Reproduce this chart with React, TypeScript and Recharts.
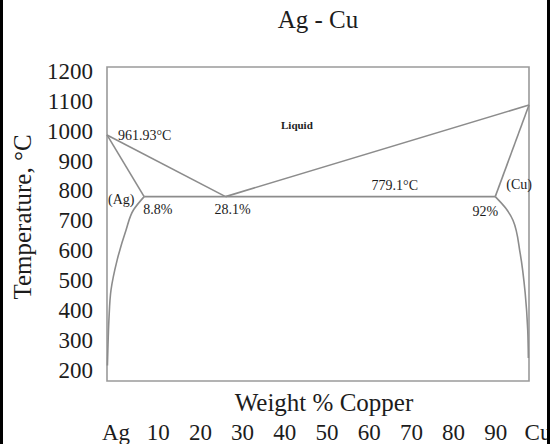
import {
  ComposedChart,
  Label,
  Line,
  ReferenceArea,
  ReferenceDot,
  XAxis,
  YAxis
} from "recharts";

// wt% Cu on x, temperature (°C) on y
const xTicks = [0, 10, 20, 30, 40, 50, 60, 70, 80, 90, 100];
const xTickNames: Record<number, string> = { 0: "Ag", 100: "Cu" };
const yTicks = [200, 300, 400, 500, 600, 700, 800, 900, 1000, 1100, 1200];

const AG_MELT = 985;
const CU_MELT = 1085;
const EUTECTIC_T = 779;
const EUTECTIC_X = 28.1;
const AG_SOLUBILITY = 8.8;
const CU_SOLUBILITY = 92;

const liquidusAg = [
  { x: 0, t: AG_MELT },
  { x: EUTECTIC_X, t: EUTECTIC_T }
];
const liquidusCu = [
  { x: EUTECTIC_X, t: EUTECTIC_T },
  { x: 100, t: CU_MELT }
];
const solidusAg = [
  { x: 0, t: AG_MELT },
  { x: AG_SOLUBILITY, t: EUTECTIC_T }
];
const solidusCu = [
  { x: CU_SOLUBILITY, t: EUTECTIC_T },
  { x: 100, t: CU_MELT }
];
const eutecticLine = [
  { x: AG_SOLUBILITY, t: EUTECTIC_T },
  { x: CU_SOLUBILITY, t: EUTECTIC_T }
];
const solvusAg = [
  { x: AG_SOLUBILITY, t: EUTECTIC_T },
  { x: 6.3, t: 735 },
  { x: 4.5, t: 667 },
  { x: 2.4, t: 567 },
  { x: 0.95, t: 467 },
  { x: 0.45, t: 366 },
  { x: 0.2, t: 266 },
  { x: 0.1, t: 215 }
];
const solvusCu = [
  { x: CU_SOLUBILITY, t: EUTECTIC_T },
  { x: 94.5, t: 740 },
  { x: 96.2, t: 700 },
  { x: 97.9, t: 590 },
  { x: 99.1, t: 456 },
  { x: 99.7, t: 333 },
  { x: 99.85, t: 240 }
];

const LINE = "#8c8c8c";
const INK = "#1c1c1c";
const FONT = "'Liberation Serif', 'Times New Roman', serif";

// text placed next to a data anchor
function note(text: string, dx: number, dy: number, anchor: string, size = 14, weight = 400) {
  return (props: any) => {
    const vb = props.viewBox || {};
    return (
      <text
        x={vb.x + dx}
        y={vb.y + dy}
        textAnchor={anchor}
        dominantBaseline="central"
        fontSize={size}
        fontWeight={weight}
        fill={INK}
        fontFamily={FONT}
      >
        {text}
      </text>
    );
  };
}

function YTitle(props: any) {
  const vb = props.viewBox || {};
  const cy = vb.y + vb.height / 2 - 7;
  return (
    <text
      transform={`translate(${vb.x + 22},${cy}) rotate(-90)`}
      textAnchor="middle"
      dominantBaseline="central"
      fontSize={25}
      fill={INK}
      fontFamily={FONT}
    >
      Temperature, °C
    </text>
  );
}

function XTitle(props: any) {
  const vb = props.viewBox || {};
  return (
    <text
      x={vb.x + vb.width / 2 + 6}
      y={vb.y + 30}
      textAnchor="middle"
      fontSize={25}
      fill={INK}
      fontFamily={FONT}
    >
      Weight % Copper
    </text>
  );
}

const series = [liquidusAg, liquidusCu, solidusAg, solidusCu, eutecticLine];

export default function App() {
  return (
    <div
      style={{
        position: "absolute",
        left: 0,
        top: 0,
        width: 550,
        height: 444,
        background: "#fff",
        fontFamily: FONT
      }}
    >
      <div
        style={{
          position: "absolute",
          left: 218,
          top: 7,
          width: 200,
          textAlign: "center",
          fontSize: 25,
          lineHeight: "25px",
          color: INK
        }}
      >
        Ag - Cu
      </div>
      <ComposedChart
        width={550}
        height={444}
        margin={{ top: 67, right: 21, bottom: 0, left: 0 }}
        style={{ fontFamily: FONT }}
      >
        <XAxis
          dataKey="x"
          type="number"
          domain={[0, 100]}
          ticks={xTicks}
          interval={0}
          height={63}
          tickLine={false}
          axisLine={false}
          tickSize={0}
          tickMargin={43}
          tick={{ fontSize: 23, fill: INK, dx: 9 }}
          tickFormatter={(v: number) => xTickNames[v] ?? String(v)}
        >
          <Label content={XTitle} />
        </XAxis>
        <YAxis
          type="number"
          domain={[163, 1212]}
          ticks={yTicks}
          interval={0}
          width={107}
          tickLine={false}
          axisLine={false}
          tickSize={0}
          tickMargin={14}
          tick={{ fontSize: 23, fill: INK }}
        >
          <Label content={YTitle} />
        </YAxis>

        <ReferenceArea
          x1={0}
          x2={100}
          y1={163}
          y2={1212}
          fill="none"
          stroke="#9a9a9a"
          strokeWidth={1.6}
        />

        {series.map((d, i) => (
          <Line
            key={i}
            data={d}
            dataKey="t"
            type="linear"
            stroke={LINE}
            strokeWidth={1.6}
            dot={false}
            activeDot={false}
            isAnimationActive={false}
          />
        ))}
        <Line
          data={solvusAg}
          dataKey="t"
          type="monotoneY"
          stroke={LINE}
          strokeWidth={1.6}
          dot={false}
          activeDot={false}
          isAnimationActive={false}
        />
        <Line
          data={solvusCu}
          dataKey="t"
          type="monotoneY"
          stroke={LINE}
          strokeWidth={1.6}
          dot={false}
          activeDot={false}
          isAnimationActive={false}
        />

        <ReferenceDot x={0} y={AG_MELT} r={0} fill="none" stroke="none"
          label={note("961.93°C", 11, 1, "start")} />
        <ReferenceDot x={45} y={1018} r={0} fill="none" stroke="none"
          label={note("Liquid", 0, 0, "middle", 11, 700)} />
        <ReferenceDot x={0} y={EUTECTIC_T} r={0} fill="none" stroke="none"
          label={note("(Ag)", 1, 3, "start")} />
        <ReferenceDot x={AG_SOLUBILITY} y={EUTECTIC_T} r={0} fill="none" stroke="none"
          label={note("8.8%", -1, 13, "start")} />
        <ReferenceDot x={EUTECTIC_X} y={EUTECTIC_T} r={0} fill="none" stroke="none"
          label={note("28.1%", 7, 13, "middle")} />
        <ReferenceDot x={68.2} y={EUTECTIC_T} r={0} fill="none" stroke="none"
          label={note("779.1°C", 0, -11, "middle")} />
        <ReferenceDot x={100} y={EUTECTIC_T} r={0} fill="none" stroke="none"
          label={note("(Cu)", 3, -12, "end")} />
        <ReferenceDot x={CU_SOLUBILITY} y={EUTECTIC_T} r={0} fill="none" stroke="none"
          label={note("92%", 3, 15, "end")} />
      </ComposedChart>
      <div style={{ position: "absolute", left: 0, top: 0, width: 3, height: 444, background: "#000" }} />
      <div style={{ position: "absolute", left: 547, top: 0, width: 3, height: 444, background: "#000" }} />
    </div>
  );
}
